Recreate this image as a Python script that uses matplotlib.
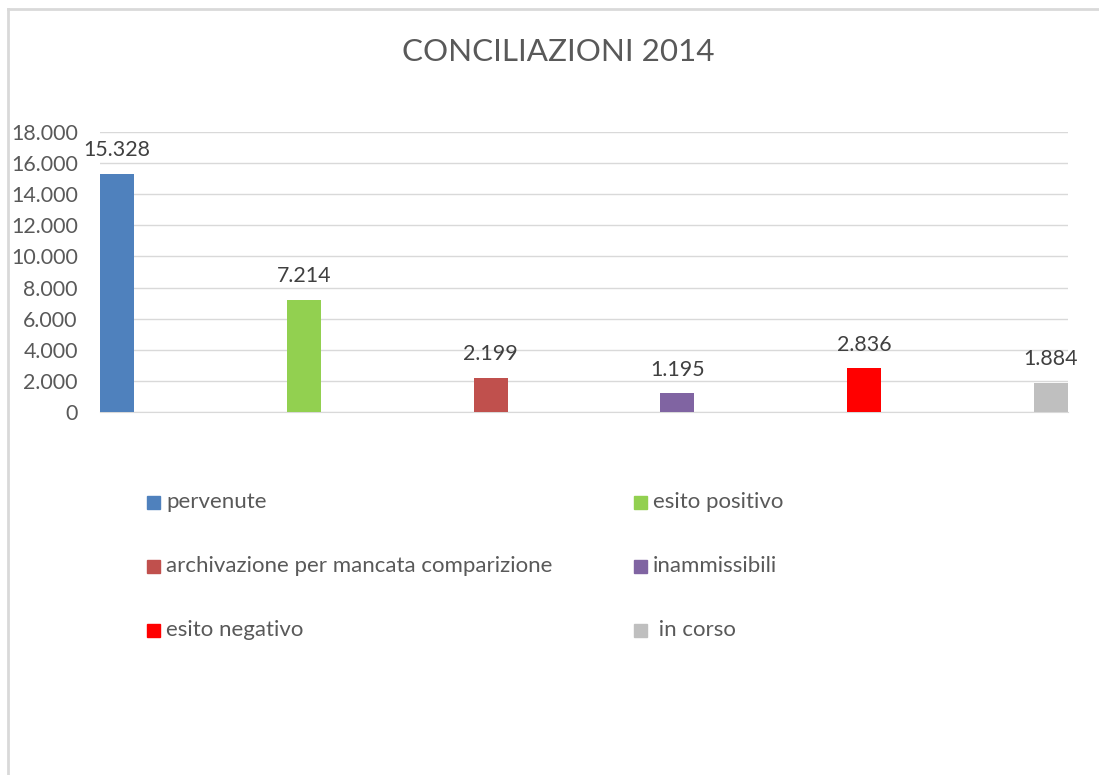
import matplotlib
matplotlib.use("Agg")
import matplotlib.pyplot as plt
from matplotlib.patches import Rectangle
from matplotlib.lines import Line2D
from matplotlib.ticker import FuncFormatter

plt.rcParams['font.family'] = ['Lato', 'DejaVu Sans']

categories = ["pervenute", "esito positivo", "archivazione per mancata comparizione",
              "inammissibili", "esito negativo", " in corso"]
values = [15328, 7214, 2199, 1195, 2836, 1884]
colors = ["#4F81BD", "#92D050", "#C0504D", "#8064A2", "#FF0000", "#BFBFBF"]
yticks = [0, 2000, 4000, 6000, 8000, 10000, 12000, 14000, 16000, 18000]
title = "CONCILIAZIONI 2014"

W, H = 1099, 775
fig = plt.figure(figsize=(W / 100, H / 100), dpi=100)

# outer chart border (only left/top visible in crop)
fig.lines.append(Line2D([7.5 / W, 7.5 / W], [-0.05, 1 - 8.5 / H], transform=fig.transFigure,
                        color="#D9D9D9", linewidth=2.0))
fig.lines.append(Line2D([7.5 / W, 1.05], [1 - 8.5 / H, 1 - 8.5 / H], transform=fig.transFigure,
                        color="#D9D9D9", linewidth=2.0))

ax = fig.add_axes([100 / W, 1 - 412 / H, 968 / W, 280 / H])
bw = 34 / 186.6
xs = list(range(len(values)))
ax.bar(xs, values, width=bw, align='edge', color=colors, zorder=3)
ax.set_xlim(0, len(values) - 1 + bw)
ax.set_ylim(0, 18000)
ax.set_yticks(yticks)
ax.yaxis.set_major_formatter(FuncFormatter(lambda v, p: f"{int(v):,}".replace(",", ".")))
ax.tick_params(axis='y', length=0, pad=16, labelsize=15.4, labelcolor="#595959")
ax.set_xticks([])
for s in ["top", "right", "left"]:
    ax.spines[s].set_visible(False)
ax.spines["bottom"].set_color("#D9D9D9")
ax.grid(axis='y', color="#D9D9D9", linewidth=1.0, zorder=0)
ax.set_axisbelow(True)

for x, v in zip(xs, values):
    ax.annotate(f"{v:,}".replace(",", "."), (x + bw / 2, v), xytext=(0, 12.5),
                textcoords="offset points", ha="center", va="baseline",
                fontsize=15.4, color="#404040")

fig.text(558 / W, 1 - 52 / H, title, ha="center", va="center",
         fontsize=22.6, color="#595959")

# legend
col_x = [147, 634]
row_y = [502, 566, 630]
for i, (lab, c) in enumerate(zip(categories, colors)):
    r, cidx = divmod(i, 2)
    x0, y0 = col_x[cidx], row_y[r]
    fig.patches.append(Rectangle((x0 / W, 1 - (y0 + 6.5) / H), 13 / W, 13 / H,
                                 transform=fig.transFigure, color=c))
    fig.text((x0 + 19) / W, 1 - y0 / H, lab, ha="left", va="center",
             fontsize=16, color="#595959")

fig.savefig("out.png", dpi=100)
